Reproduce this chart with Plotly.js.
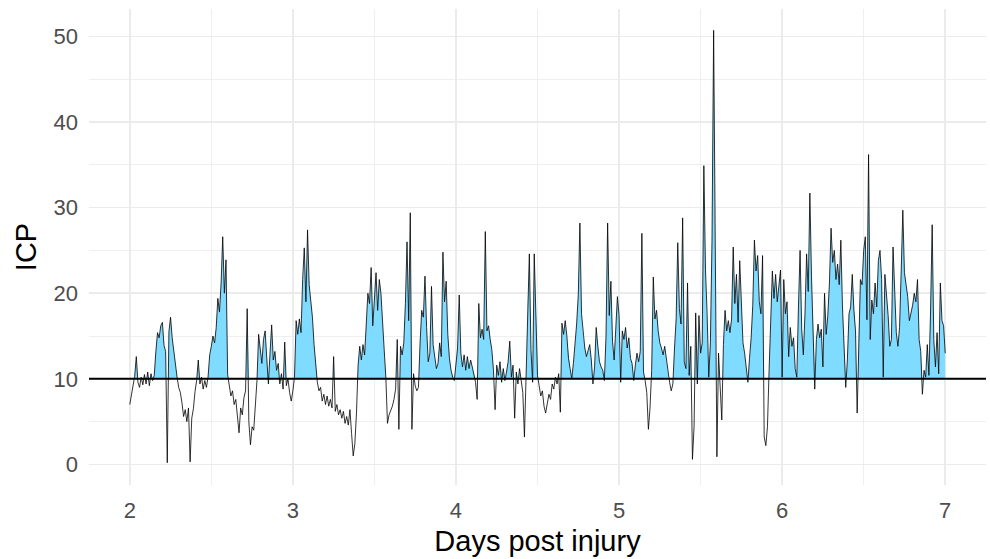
<!DOCTYPE html>
<html>
<head>
<meta charset="utf-8">
<script src="https://cdn.plot.ly/plotly-3.0.1.min.js"></script>
<style>html,body{margin:0;padding:0;background:#fff;}#chart{width:990px;height:559px;}</style>
</head>
<body>
<div id="chart"></div>
<script>
// Time axis: one reading every 0.01 day, starting at day 2
const dayStart = 2;
const dayStep = 0.01;
const threshold = 10;

// ICP readings, one array per day
const icpDay2 = [
  7.0, 8.2, 9.4, 10.3, 12.6, 9.6, 9.0, 10.2, 9.3, 10.5,
  9.4, 10.8, 9.2, 10.6, 9.8, 10.4, 13.2, 15.4, 14.8, 16.2,
  16.6, 13.9, 13.2, 0.2, 15.5, 17.2, 14.8, 13.0, 11.8, 10.2,
  9.0, 8.4, 7.2, 5.6, 6.4, 5.0, 6.6, 0.3, 5.4, 6.5,
  8.5, 9.8, 12.2, 9.4, 10.2, 8.8, 9.8, 9.0, 10.2, 12.8,
  13.8, 15.0, 14.2, 16.0, 19.4, 17.8, 21.2, 26.6, 20.0, 23.9,
  10.5, 9.2, 8.0, 8.6, 7.0, 7.6, 5.8, 3.7, 6.6, 5.8,
  7.8, 8.6, 18.2, 5.0, 2.3, 4.4, 4.0, 6.8, 9.8, 15.2,
  13.0, 11.8, 14.6, 15.6, 12.4, 9.4, 13.0, 16.3, 12.2, 13.2,
  11.0, 11.8, 9.4, 10.6, 8.8, 14.3, 9.2, 10.0, 8.4, 7.4
];
const icpDay3 = [
  8.6, 10.2, 16.8, 15.2, 17.0, 15.4, 21.6, 25.3, 19.0, 27.4,
  21.0, 19.2, 17.2, 14.0, 11.8, 9.6, 8.6, 9.0, 7.4, 8.2,
  7.0, 8.0, 6.8, 7.6, 6.6, 12.6, 6.2, 7.0, 5.8, 6.4,
  5.4, 6.2, 4.8, 5.6, 4.6, 6.4, 3.6, 1.0, 2.4, 6.0,
  11.6, 13.8, 12.2, 14.0, 12.8, 17.4, 20.0, 18.8, 23.0, 16.2,
  19.4, 22.4, 18.0, 21.6, 20.0, 16.0, 13.4, 10.2, 4.8, 5.8,
  6.2, 6.8, 7.6, 8.8, 14.6, 4.1, 13.8, 12.8, 14.2, 18.8,
  26.0, 16.8, 29.4, 4.1, 10.6, 9.2, 8.6, 9.0, 14.2, 18.0,
  17.2, 22.0, 16.0, 12.0, 13.0, 20.8, 14.0, 12.8, 11.2, 11.8,
  14.2, 12.6, 24.8, 19.0, 21.4, 15.2, 12.4, 11.0, 10.2, 9.8
];
const icpDay4 = [
  12.0, 13.6, 19.8, 13.0, 11.4, 12.8, 11.0, 12.6, 11.2, 12.2,
  11.4, 10.6, 9.6, 7.6, 18.8, 14.8, 15.8, 14.6, 27.2, 15.6,
  16.2, 14.6, 13.4, 11.0, 6.4, 11.6, 10.4, 12.0, 9.6, 11.2,
  9.8, 10.8, 12.0, 14.4, 10.2, 11.6, 5.4, 10.8, 9.4, 11.2,
  9.6, 8.4, 3.2, 10.0, 19.0, 24.6, 13.4, 9.6, 24.6, 17.6,
  10.4, 9.2, 8.0, 8.6, 6.8, 6.0, 7.4, 8.2, 7.6, 9.4,
  8.8, 10.2, 9.4, 10.6, 6.1, 16.5, 15.2, 16.8, 15.0, 12.4,
  11.2, 10.0, 11.8, 13.8, 16.4, 19.8, 28.2, 17.6, 15.0, 13.6,
  12.6, 13.2, 14.0, 12.2, 9.4, 11.4, 16.0, 13.8, 12.0, 11.4,
  11.0, 9.8, 15.0, 28.2, 17.4, 21.4, 14.4, 12.2, 15.6, 19.6
];
const icpDay5 = [
  17.4, 9.6, 15.6, 14.6, 16.0, 13.6, 14.8, 12.4, 11.8, 9.8,
  11.6, 13.0, 12.0, 13.2, 27.0, 10.8, 9.8, 8.4, 4.1, 6.6,
  11.0, 21.9, 17.0, 18.0, 15.6, 14.2, 13.6, 12.8, 13.8, 12.4,
  10.4, 9.6, 8.6, 9.4, 13.6, 17.0, 25.9, 18.2, 16.4, 28.8,
  12.0, 11.2, 21.2, 10.4, 13.8, 0.6, 4.4, 17.7, 9.4, 17.4,
  13.0, 14.2, 34.9, 22.8, 17.6, 10.2, 14.2, 26.2, 50.7, 18.9,
  0.9, 13.0, 9.8, 5.2, 14.0, 18.0, 15.6, 16.8, 15.4, 17.0,
  25.4, 18.8, 22.2, 16.6, 23.8, 19.2, 14.2, 13.0, 11.0, 9.6,
  12.4, 14.8, 18.6, 26.2, 22.6, 24.4, 19.0, 17.6, 24.4, 3.2,
  2.2, 4.4, 11.0, 18.4, 22.6, 19.4, 22.2, 19.0, 20.6, 22.7
];
const icpDay6 = [
  10.2, 21.6, 17.6, 19.0, 12.6, 16.0, 13.8, 14.8, 11.2, 10.2,
  18.4, 25.0, 15.8, 12.8, 17.6, 24.6, 20.2, 31.7, 22.0, 16.0,
  8.8, 14.6, 16.4, 14.8, 15.8, 11.4, 20.0, 15.2, 17.4, 21.2,
  27.6, 23.6, 25.0, 21.6, 23.4, 21.0, 26.2, 18.4, 13.6, 9.0,
  12.2, 17.6, 18.4, 22.2, 18.0, 15.6, 6.0, 15.8, 21.6, 21.0,
  25.0, 26.6, 16.9, 36.2, 14.6, 19.2, 17.6, 21.2, 18.4, 23.8,
  25.0, 21.6, 10.2, 22.2, 20.0, 17.4, 13.8, 14.6, 25.4, 19.2,
  15.4, 13.8, 16.0, 22.6, 29.7, 22.4, 21.2, 19.6, 16.8, 17.6,
  18.6, 20.0, 19.0, 21.6, 14.6, 13.2, 8.2, 11.0, 10.2, 14.0,
  10.4, 17.8, 28.0, 14.6, 11.4, 15.4, 10.6, 21.2, 16.8, 16.2, 13.0
];

const icp = [].concat(icpDay2, icpDay3, icpDay4, icpDay5, icpDay6);
const days = icp.map((_, i) => +(dayStart + i * dayStep).toFixed(4));

// Area above threshold (with crossing points)
const fx = [], fy = [];
for (let i = 0; i < icp.length; i++) {
  if (i > 0) {
    const a = icp[i - 1] - threshold, b = icp[i] - threshold;
    if (a * b < 0) {
      const t = a / (a - b);
      fx.push(days[i - 1] + t * (days[i] - days[i - 1]));
      fy.push(threshold);
    }
  }
  fx.push(days[i]);
  fy.push(Math.max(icp[i], threshold));
}

const traces = [
  {x: [days[0], days[days.length - 1]], y: [threshold, threshold], mode: 'lines',
   line: {width: 0, color: 'rgba(0,0,0,0)'}, hoverinfo: 'skip', showlegend: false},
  {x: fx, y: fy, mode: 'lines', fill: 'tonexty', fillcolor: '#7FDBFF',
   line: {width: 0, color: 'rgba(0,0,0,0)'}, hoverinfo: 'skip', showlegend: false},
  {x: days, y: icp, mode: 'lines', line: {color: '#000000', width: 0.8}, showlegend: false}
];

const grid = '#EBEBEB';
const layout = {
  width: 990, height: 559,
  margin: {l: 89, r: 4, t: 9, b: 74},
  paper_bgcolor: '#FFFFFF', plot_bgcolor: '#FFFFFF',
  font: {family: 'Liberation Sans, Arial, sans-serif', color: '#000'},
  showlegend: false,
  xaxis: {
    range: [1.75, 7.25], tick0: 2, dtick: 1, showgrid: true, gridcolor: grid, gridwidth: 1.7,
    zeroline: false, showline: false, ticks: '',
    tickfont: {size: 22, color: '#4D4D4D'}, ticklabelstandoff: 10,
    minor: {tick0: 2, dtick: 0.5, showgrid: true, gridcolor: grid, gridwidth: 0.8},
    title: {text: 'Days post injury', font: {size: 29, color: '#000'}, standoff: 8}
  },
  yaxis: {
    range: [-2.4, 53.2], tick0: 0, dtick: 10, showgrid: true, gridcolor: grid, gridwidth: 1.7,
    zeroline: false, showline: false, ticks: '',
    tickfont: {size: 22, color: '#4D4D4D'}, ticklabelstandoff: 10,
    minor: {tick0: 0, dtick: 5, showgrid: true, gridcolor: grid, gridwidth: 0.8},
    title: {text: 'ICP', font: {size: 29, color: '#000'}, standoff: 8}
  },
  shapes: [
    {type: 'line', xref: 'paper', x0: 0, x1: 1, yref: 'y', y0: threshold, y1: threshold,
     line: {color: '#000000', width: 2}, layer: 'above'}
  ]
};

Plotly.newPlot('chart', traces, layout, {staticPlot: true, displayModeBar: false});
</script>
</body>
</html>
